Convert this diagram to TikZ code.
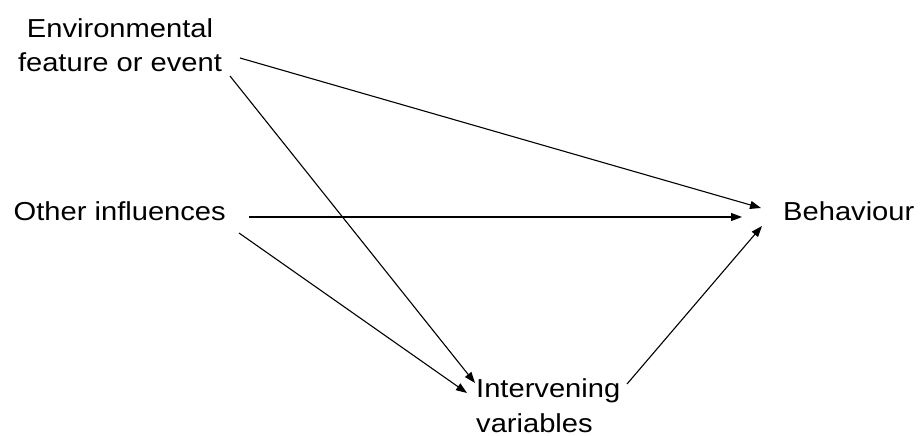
\documentclass[tikz,border=0pt]{standalone}
\usepackage{fontspec}
\setmainfont{Liberation Sans}[FakeStretch=1.12]
\usetikzlibrary{arrows.meta}
\begin{document}
\begin{tikzpicture}[x=1pt,y=-1pt,
  label text/.style={inner sep=0pt, font=\fontsize{26}{33}\selectfont},
  link/.style={line width=1.1pt, -{Triangle[length=11pt,width=8pt]}}]
  \useasboundingbox (0,0) rectangle (921,436);

  % factor labels (multi-line nodes sit on the baseline of their last line)
  \node[label text, align=center, anchor=base] (env) at (120,71)
    {Environmental\\feature or event};
  \node[label text, anchor=base west] (other) at (13.5,220) {Other influences};
  \node[label text, anchor=base west] (beh) at (783,220) {Behaviour};
  \node[label text, align=left, anchor=base west] (inter) at (476,432)
    {Intervening\\[2pt]variables};

  % connector end points
  \coordinate (env-a) at (240,58);
  \coordinate (env-b) at (230,76);
  \coordinate (other-a) at (249,217);
  \coordinate (other-b) at (239,233);
  \coordinate (inter-out) at (627,384);
  \coordinate (beh-a) at (761,208);
  \coordinate (beh-b) at (742,217);
  \coordinate (beh-c) at (762,226);
  \coordinate (inter-a) at (475,383);
  \coordinate (inter-b) at (467,393);

  % influences
  \draw[link] (env-a) -- (beh-a);
  \draw[link] (env-b) -- (inter-a);
  \draw[link] (other-a) -- (beh-b);
  \draw[link] (other-b) -- (inter-b);
  \draw[link] (inter-out) -- (beh-c);
\end{tikzpicture}
\end{document}
